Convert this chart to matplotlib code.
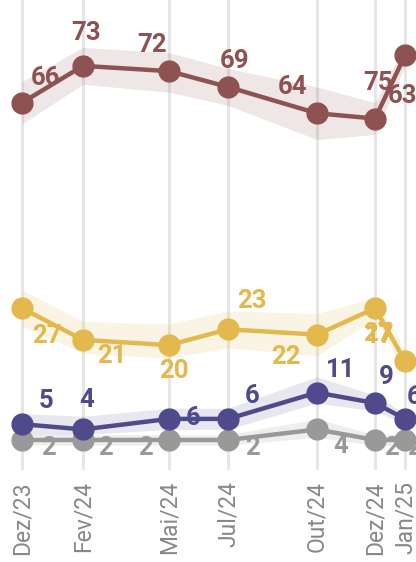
import matplotlib
matplotlib.use("Agg")
import matplotlib.pyplot as plt
import pandas as pd
import numpy as np

plt.rcParams['font.family'] = ['Roboto', 'DejaVu Sans']

dates = pd.to_datetime(['2023-12-05', '2024-02-06', '2024-05-05', '2024-07-05',
                        '2024-10-05', '2024-12-04', '2025-01-04'])
tick_labels = ['Dez/23', 'Fev/24', 'Mai/24', 'Jul/24', 'Out/24', 'Dez/24', 'Jan/25']

red = [66, 73, 72, 69, 64, 63, 75]
red_hi = [70, 76.5, 75.5, 72.5, 69, 66, 77]
red_lo = [62, 69.5, 68, 65.5, 59, 60, 73]

yellow = [27, 21, 20, 23, 22, 27, 17]
yellow_hi = [30.5, 24.5, 24, 26.5, 26, 29, 19]
yellow_lo = [23.5, 18.5, 17.5, 19.5, 18, 25, 15]

purple = [5, 4, 6, 6, 11, 9, 6]
purple_hi = [7, 6.5, 8, 8, 14, 10.5, 7]
purple_lo = [3, 3, 4, 4, 9, 7.5, 5]

gray = [2, 2, 2, 2, 4, 2, 2]
gray_hi = [3, 3, 3, 3, 6, 3, 3]
gray_lo = [1, 1, 1, 1, 2.5, 1, 1]

# label offsets in pixels (dx, dy up)
red_off = [(24, 25), (3, 33), (-17, 26), (7, 26), (-24, 26), (27, 23), (-27, -28)]
yellow_off = [(25, -28), (29, -16), (5, -26), (24, 28), (-31, -22), (3, -26), (-25, 25)]
purple_off = [(24, 23), (4, 29), (24, 1), (24, 23), (24, 23), (11, 26), (9, 22)]
gray_off = [(26, -8), (23, -8), (-24, -8), (24, -8), (24, -17), (16, -8), (10, -8)]

series = [
    (gray, gray_lo, gray_hi, '#999999', 0.16, gray_off),
    (purple, purple_lo, purple_hi, '#4f4a8c', 0.13, purple_off),
    (yellow, yellow_lo, yellow_hi, '#e3b84c', 0.15, yellow_off),
    (red, red_lo, red_hi, '#8e5252', 0.14, red_off),
]

fig = plt.figure(figsize=(4.16, 5.62), dpi=100)
ax = fig.add_axes([0, 92 / 562, 1, 470 / 562])

x = matplotlib.dates.date2num(dates)
px_per_day = (405 - 22) / (x[-1] - x[0])
ax.set_xlim(x[0] - 22 / px_per_day, x[-1] + 11 / px_per_day)
ax.set_ylim(-3.7, 85.5)

for xv in x:
    ax.axvline(xv, color='#e6e6e6', lw=2.2, zorder=0)

for vals, lo, hi, col, alpha, offs in series:
    ax.fill_between(x, lo, hi, color=col, alpha=alpha, lw=0, zorder=1)
    ax.plot(x, vals, color=col, lw=3.2, marker='o', ms=15, zorder=3)
    for xv, v, (dx, dy) in zip(x, vals, offs):
        ax.annotate(str(v), (xv, v), xytext=(dx, dy), textcoords='offset pixels',
                    ha='center', va='center', fontsize=18.5, fontweight='bold',
                    color=col, zorder=2, annotation_clip=False)

ax.set_xticks(x)
ax.set_xticklabels(tick_labels, rotation=90, fontsize=16.5, color='#888888')
ax.tick_params(axis='x', length=0, pad=8)
ax.set_yticks([])
for s in ax.spines.values():
    s.set_visible(False)

fig.savefig('out.png', dpi=100)
